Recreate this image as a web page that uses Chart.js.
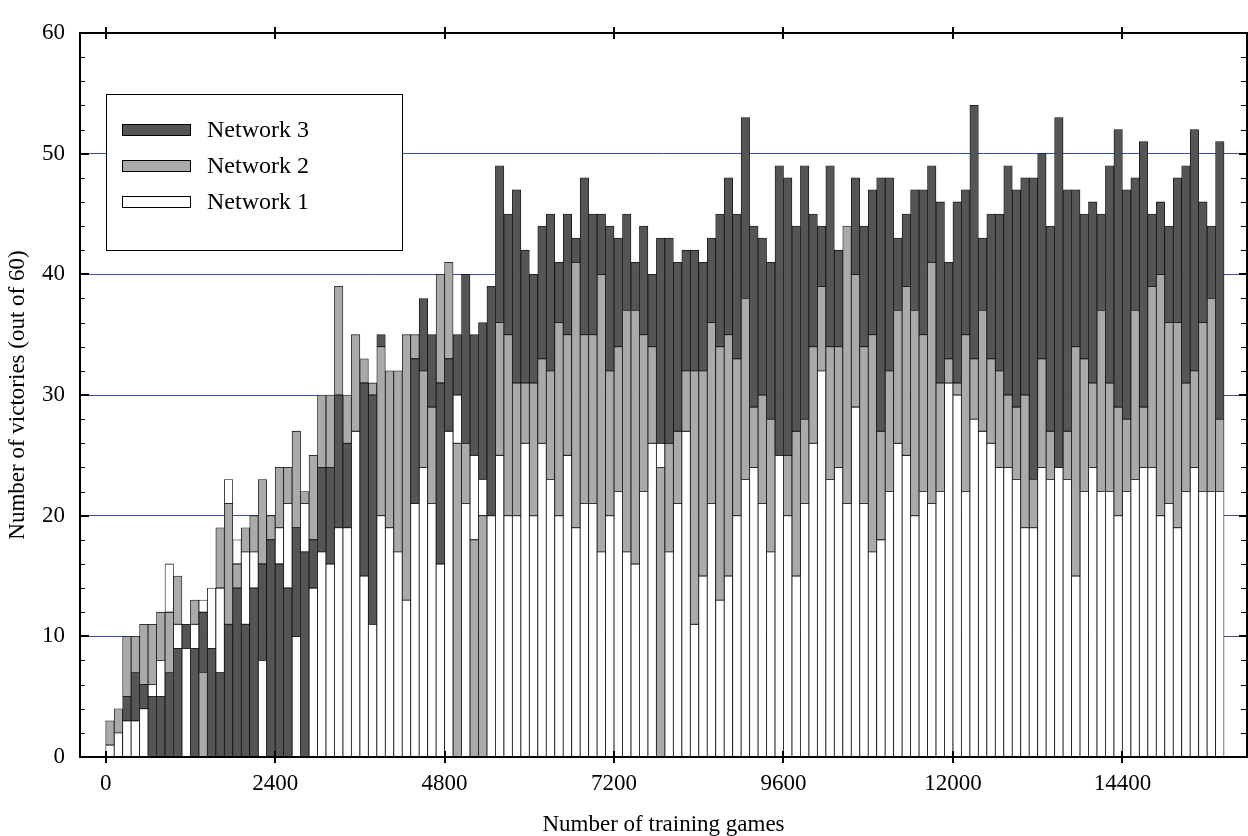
<!DOCTYPE html>
<html>
<head>
<meta charset="utf-8">
<script src="https://cdn.jsdelivr.net/npm/chart.js@4/dist/chart.umd.min.js"></script>
<style>
html,body{margin:0;padding:0;background:#ffffff;}
#wrap{width:1248px;height:836px;position:relative;}
</style>
</head>
<body>
<div id="wrap"><canvas id="c" width="1248" height="836"></canvas></div>
<script>
// ---- data (start of each 120-game bin) ----
const binStart = [0,120,240,360,480,600,720,840,960,1080,1200,1320,1440,1560,1680,1800,1920,2040,2160,2280,
2400,2520,2640,2760,2880,3000,3120,3240,3360,3480,3600,3720,3840,3960,4080,4200,4320,4440,4560,4680,
4800,4920,5040,5160,5280,5400,5520,5640,5760,5880,6000,6120,6240,6360,6480,6600,6720,6840,6960,7080,
7200,7320,7440,7560,7680,7800,7920,8040,8160,8280,8400,8520,8640,8760,8880,9000,9120,9240,9360,9480,
9600,9720,9840,9960,10080,10200,10320,10440,10560,10680,10800,10920,11040,11160,11280,11400,11520,11640,11760,11880,
12000,12120,12240,12360,12480,12600,12720,12840,12960,13080,13200,13320,13440,13560,13680,13800,13920,14040,14160,14280,
14400,14520,14640,14760,14880,15000,15120,15240,15360,15480,15600,15720];

const network1 = [1,2,3,3,4,6,8,16,11,9,11,13,14,14,23,18,17,17,8,0,
19,21,10,21,14,17,16,19,19,27,15,11,20,19,17,13,21,24,21,16,
27,30,21,25,23,20,25,20,20,26,20,26,23,20,25,19,21,21,17,20,
22,17,16,22,26,26,17,21,27,11,15,21,13,15,20,23,24,21,17,25,
20,15,21,26,32,23,24,21,29,21,17,18,22,26,25,20,22,21,22,31,
30,22,28,27,26,24,24,23,19,19,24,23,24,23,15,22,24,22,22,20,
22,23,24,24,20,21,19,22,24,22,22,22];

const network2 = [3,4,10,10,11,11,12,12,15,0,13,7,0,19,21,16,19,20,23,20,
24,24,27,22,25,30,30,39,30,35,33,31,34,32,32,35,35,32,29,40,
41,26,26,18,20,0,36,35,31,31,31,33,32,36,35,41,35,35,40,32,
34,37,37,35,34,24,26,27,32,32,32,36,34,35,33,38,29,30,28,0,
25,27,28,34,39,34,34,44,40,34,35,27,32,37,39,37,35,41,31,33,
31,35,33,37,33,32,30,29,30,23,33,27,0,27,34,33,31,37,31,29,
28,37,29,39,40,36,36,31,32,36,38,28];

const network3 = [0,0,5,7,6,5,5,7,9,11,9,12,9,7,11,14,11,14,16,18,
16,14,19,17,18,24,24,30,26,0,31,30,35,0,0,0,33,38,35,31,
33,35,40,35,36,39,49,45,47,42,40,44,45,41,45,43,48,45,45,44,
43,45,41,44,40,43,43,41,42,42,41,43,45,48,45,53,44,43,41,49,
48,44,49,45,44,49,42,0,48,44,47,48,48,43,45,47,47,49,46,41,
46,47,54,43,45,45,49,47,48,48,50,44,53,47,47,45,46,45,49,52,
47,48,51,45,46,44,48,49,52,46,44,51];

const seriesNames = ['Network 1', 'Network 2', 'Network 3'];
const seriesColors = ['#ffffff', '#aaaaaa', '#555555'];
const xTickValues = [0, 2400, 4800, 7200, 9600, 12000, 14400];
const xTickLabels = ['0', '2400', '4800', '7200', '9600', '12000', '14400'];
const yTickValues = [0, 10, 20, 30, 40, 50, 60];
const yTickLabels = ['0', '10', '20', '30', '40', '50', '60'];
const binWidth = 120;

// Bars of the three networks overlap, the shortest drawn in front:
// each visible part is the segment between the next-lower value and the value.
const allSeries = [network1, network2, network3];
function segmentsFor(k) {
  return binStart.map((s, i) => {
    const v = allSeries[k][i];
    let lo = 0;
    for (let j = 0; j < 3; j++) {
      if (j === k) continue;
      const o = allSeries[j][i];
      if (o < v && o > lo) lo = o;
      if (o === v && j > k) return { x: s + binWidth / 2, y: null };
    }
    if (v <= 0 || lo >= v) return { x: s + binWidth / 2, y: null };
    return { x: s + binWidth / 2, y: [lo, v] };
  });
}

const FONT = "'Liberation Serif', 'Times New Roman', serif";

const frame = {
  id: 'frame',
  afterDatasetsDraw(chart) {
    const ctx = chart.ctx;
    const a = chart.chartArea;
    const xs = chart.scales.x, ys = chart.scales.y;
    ctx.save();
    ctx.strokeStyle = '#000';
    ctx.lineWidth = 1;
    for (let v = 2; v < 60; v += 2) {
      if (v % 10 === 0) continue;
      const y = Math.round(ys.getPixelForValue(v)) + 0.5;
      ctx.beginPath();
      ctx.moveTo(a.left, y); ctx.lineTo(a.left + 5, y);
      ctx.moveTo(a.right, y); ctx.lineTo(a.right - 6, y);
      ctx.stroke();
    }
    ctx.lineWidth = 2;
    yTickValues.forEach(v => {
      const y = Math.round(ys.getPixelForValue(v));
      ctx.beginPath();
      ctx.moveTo(a.left, y); ctx.lineTo(a.left + 9, y);
      ctx.moveTo(a.right, y); ctx.lineTo(a.right - 8, y);
      ctx.stroke();
    });
    xTickValues.forEach(v => {
      const x = Math.round(xs.getPixelForValue(v));
      ctx.beginPath();
      ctx.moveTo(x, a.top - 6); ctx.lineTo(x, a.top + 6);
      ctx.moveTo(x, a.bottom - 6); ctx.lineTo(x, a.bottom + 6);
      ctx.stroke();
    });
    ctx.lineWidth = 2;
    ctx.beginPath();
    ctx.moveTo(a.left, a.top); ctx.lineTo(a.right + 1, a.top);
    ctx.moveTo(a.left, a.top - 1); ctx.lineTo(a.left, a.bottom + 1);
    ctx.moveTo(a.left, a.bottom); ctx.lineTo(a.right + 1, a.bottom);
    ctx.moveTo(a.right, a.top); ctx.lineTo(a.right, a.bottom);
    ctx.stroke();
    ctx.restore();
  }
};

const legendBox = {
  id: 'legendBox',
  afterDraw(chart) {
    const ctx = chart.ctx;
    const bx = 106, by = 94, bw = 296, bh = 156;
    ctx.save();
    ctx.fillStyle = '#fff';
    ctx.fillRect(bx, by, bw, bh);
    ctx.strokeStyle = '#000';
    ctx.lineWidth = 1;
    ctx.strokeRect(bx + 0.5, by + 0.5, bw, bh);
    const order = [2, 1, 0];
    ctx.font = '24px ' + FONT;
    ctx.textBaseline = 'middle';
    order.forEach((k, r) => {
      const cy = 130 + r * 36;
      ctx.fillStyle = seriesColors[k];
      ctx.fillRect(122, cy - 6, 69, 12);
      ctx.strokeStyle = '#000';
      ctx.strokeRect(122.5, cy - 5.5, 68, 11);
      ctx.fillStyle = '#000';
      ctx.fillText(seriesNames[k], 207, cy + 1);
    });
    ctx.restore();
  }
};

const datasets = [2, 1, 0].map(k => ({
  label: seriesNames[k],
  data: segmentsFor(k),
  backgroundColor: seriesColors[k],
  borderColor: '#111',
  borderWidth: 0.8,
  borderSkipped: false,
  grouped: false,
  barPercentage: 1,
  categoryPercentage: 1
}));

new Chart(document.getElementById('c'), {
  type: 'bar',
  data: { datasets },
  plugins: [frame, legendBox],
  options: {
    responsive: false,
    devicePixelRatio: 1,
    animation: false,
    layout: { padding: { top: 33, right: 1, left: 0, bottom: 0 } },
    plugins: { legend: { display: false }, tooltip: { enabled: false } },
    scales: {
      x: {
        type: 'linear',
        min: -364,
        max: 16165,
        offset: false,
        afterFit(s) { s.height = 79; },
        afterBuildTicks(s) { s.ticks = xTickValues.map(v => ({ value: v })); },
        grid: { display: false, drawTicks: false },
        border: { display: false },
        ticks: {
          autoSkip: false, maxRotation: 0, padding: 13, color: '#000',
          font: { family: FONT, size: 23 },
          callback: (v) => xTickLabels[xTickValues.indexOf(v)]
        },
        title: {
          display: true, text: 'Number of training games', color: '#000',
          font: { family: FONT, size: 23, lineHeight: 1 },
          padding: { top: 0, bottom: 0 }
        }
      },
      y: {
        min: 0, max: 60,
        afterFit(s) { s.width = 80; },
        afterBuildTicks(s) { s.ticks = yTickValues.map(v => ({ value: v })); },
        grid: {
          drawTicks: false,
          lineWidth: 1,
          color: (c) => (c.tick && (c.tick.value === 0 || c.tick.value === 60)) ? 'rgba(0,0,0,0)' : '#3a4cb4'
        },
        border: { display: false },
        ticks: {
          padding: 15, color: '#000',
          font: { family: FONT, size: 23 },
          callback: (v) => yTickLabels[yTickValues.indexOf(v)]
        },
        title: {
          display: true, text: 'Number of victories (out of 60)', color: '#000',
          font: { family: FONT, size: 23, lineHeight: 1 },
          padding: { top: 6, bottom: 0 }
        }
      }
    }
  }
});
</script>
</body>
</html>
